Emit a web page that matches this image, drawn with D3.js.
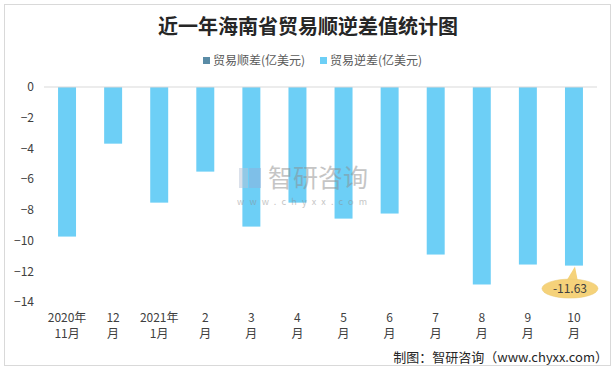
<!DOCTYPE html>
<html>
<head>
<meta charset="utf-8">
<script src="https://cdn.jsdelivr.net/npm/d3@7"></script>
<style>
  body { margin: 0; background: #fff; }
  text { font-family: "Noto Sans CJK SC", "Noto Sans", sans-serif; }
</style>
</head>
<body>
<svg id="chart"></svg>
<script>
const months = [
  ["2020年", "11月"], ["12", "月"], ["2021年", "1月"], ["2", "月"], ["3", "月"], ["4", "月"],
  ["5", "月"], ["6", "月"], ["7", "月"], ["8", "月"], ["9", "月"], ["10", "月"]
];
const deficit = [-9.74, -3.69, -7.53, -5.51, -9.09, -7.53, -8.57, -8.24, -10.91, -12.86, -11.56, -11.63];
const yTicks = [0, -2, -4, -6, -8, -10, -12, -14];
const legendNames = ["贸易顺差(亿美元)", "贸易逆差(亿美元)"];
const legendColors = ["#5a8ca6", "#6dcff6"];

const width = 615;
const height = 371;
const plotLeft = 44, plotRight = 597, plotTop = 87, plotBottom = 302;

const svg = d3.select("#chart").attr("width", width).attr("height", height);

svg.append("rect")
  .attr("x", 4.5).attr("y", 4.5)
  .attr("width", 606).attr("height", 361)
  .attr("fill", "#fff").attr("stroke", "#d9d9d9");

svg.append("text")
  .attr("x", 308).attr("y", 34)
  .attr("text-anchor", "middle")
  .attr("font-size", 20).attr("font-weight", "bold")
  .attr("fill", "#262626")
  .text("近一年海南省贸易顺逆差值统计图");

// legend
const legendX = [203, 320];
legendNames.forEach((name, i) => {
  svg.append("rect")
    .attr("x", legendX[i]).attr("y", 57)
    .attr("width", 7).attr("height", 7)
    .attr("fill", legendColors[i]);
  svg.append("text")
    .attr("x", legendX[i] + 10).attr("y", 65)
    .attr("font-size", 12).attr("fill", "#595959")
    .text(name);
});

const xScale = d3.scaleBand()
  .domain(d3.range(months.length))
  .range([plotLeft, plotRight])
  .paddingInner(0.61).paddingOuter(0.305);

const yScale = d3.scaleLinear()
  .domain([0, -14])
  .range([plotTop, plotBottom]);

// bars
svg.append("g")
  .selectAll("rect")
  .data(deficit)
  .enter()
  .append("rect")
  .attr("x", (d, i) => xScale(i))
  .attr("y", yScale(0))
  .attr("width", xScale.bandwidth())
  .attr("height", (d) => yScale(d) - yScale(0))
  .attr("fill", legendColors[1]);

// watermark, drawn over the bars
const wm = svg.append("g").attr("opacity", 0.5);
wm.append("rect").attr("x", 239).attr("y", 168).attr("width", 9).attr("height", 20).attr("fill", "#b8c4d8");
wm.append("rect").attr("x", 249).attr("y", 168).attr("width", 12).attr("height", 20).attr("fill", "#8fb0dc");
wm.append("text").attr("x", 268).attr("y", 187)
  .attr("font-size", 25).attr("fill", "#8c8c8c").text("智研咨询");
wm.append("text").attr("x", 237).attr("y", 205)
  .attr("font-size", 9).attr("fill", "#8c8c8c")
  .attr("letter-spacing", 5.2).text("www.chyxx.com");

// zero line
svg.append("line")
  .attr("x1", plotLeft).attr("x2", plotRight)
  .attr("y1", yScale(0)).attr("y2", yScale(0))
  .attr("stroke", "#d9d9d9");

// y axis labels
const yAxis = d3.axisLeft(yScale).tickValues(yTicks).tickSize(0).tickPadding(10);
const yG = svg.append("g")
  .attr("transform", `translate(${plotLeft}, 0)`)
  .call(yAxis);
yG.select(".domain").remove();
yG.selectAll("text")
  .attr("font-size", 12).attr("fill", "#404040")
  .attr("font-family", "\"Noto Sans CJK SC\", sans-serif");

// x labels
const xG = svg.append("g");
months.forEach((m, i) => {
  const cx = xScale(i) + xScale.bandwidth() / 2;
  xG.append("text").attr("x", cx).attr("y", 322)
    .attr("text-anchor", "middle").attr("font-size", 12).attr("fill", "#404040").text(m[0]);
  xG.append("text").attr("x", cx).attr("y", 338)
    .attr("text-anchor", "middle").attr("font-size", 12).attr("fill", "#404040").text(m[1]);
});

// callout for the last bar
const last = deficit.length - 1;
const lx = xScale(last) + xScale.bandwidth() / 2;
const ly = yScale(deficit[last]);
const call = svg.append("g");
call.append("path")
  .attr("d", `M${lx + 1},${ly + 1} L${lx - 8},${ly + 16} L${lx + 4},${ly + 16} Z`)
  .attr("fill", "#f5d27a");
call.append("ellipse")
  .attr("cx", lx - 4).attr("cy", ly + 23)
  .attr("rx", 28).attr("ry", 9.5)
  .attr("fill", "#f5d27a").attr("stroke", "#e8c873").attr("stroke-width", 0.5);
call.append("text")
  .attr("x", lx - 4).attr("y", ly + 27.5)
  .attr("text-anchor", "middle").attr("font-size", 12).attr("fill", "#404040")
  .text(deficit[last].toFixed(2));

// footer
svg.append("text")
  .attr("x", 608).attr("y", 362)
  .attr("text-anchor", "end").attr("font-size", 13).attr("fill", "#262626")
  .text("制图：智研咨询（www.chyxx.com）");
</script>
</body>
</html>
